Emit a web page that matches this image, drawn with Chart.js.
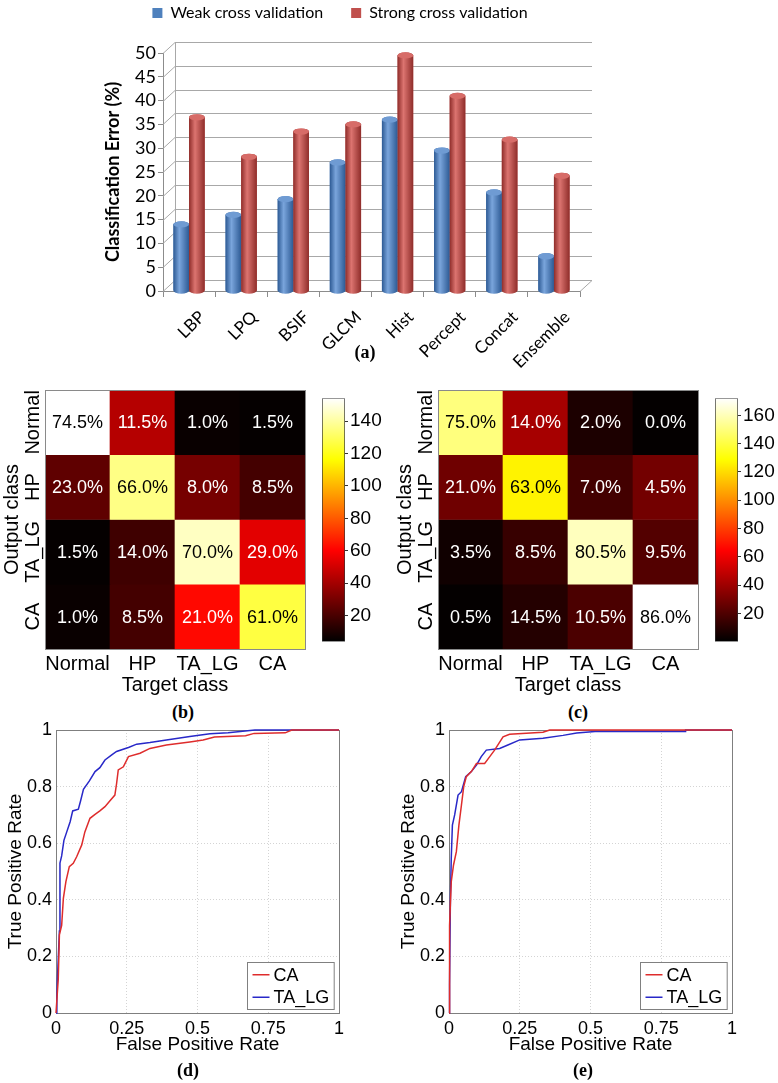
<!DOCTYPE html>
<html>
<head>
<meta charset="utf-8">
<script src="https://cdn.jsdelivr.net/npm/chart.js@4.4.0/dist/chart.umd.min.js"></script>
<style>
  body { margin: 0; background: #fff; }
  #page { position: relative; width: 778px; height: 1083px; overflow: hidden; background: #fff; }
  .box { position: absolute; }
  .panel-label { position: absolute; font: bold 18px "Liberation Serif", "Times New Roman", serif; transform: translate(-50%, -50%); }
</style>
</head>
<body>
<div id="page">
  <div class="box" style="left:0;top:-23px;width:778px;height:398px"><canvas id="barChart"></canvas></div>
  <div class="panel-label" style="left:365px;top:352px">(a)</div>

  <div class="box" style="left:0;top:385px;width:310px;height:316px"><canvas id="heatB"></canvas></div>
  <div class="box" style="left:312px;top:385px;width:75px;height:270px"><canvas id="barB"></canvas></div>
  <div class="panel-label" style="left:183px;top:712px">(b)</div>

  <div class="box" style="left:393px;top:385px;width:310px;height:316px"><canvas id="heatC"></canvas></div>
  <div class="box" style="left:705px;top:385px;width:73px;height:270px"><canvas id="barC"></canvas></div>
  <div class="panel-label" style="left:578px;top:712px">(c)</div>

  <div class="box" style="left:0;top:715px;width:350px;height:345px"><canvas id="rocD"></canvas></div>
  <div class="panel-label" style="left:188px;top:1070px">(d)</div>

  <div class="box" style="left:393px;top:715px;width:350px;height:345px"><canvas id="rocE"></canvas></div>
  <div class="panel-label" style="left:583px;top:1070px">(e)</div>
</div>
<script>
// ---- data ----
const methods = ['LBP', 'LPQ', 'BSIF', 'GLCM', 'Hist', 'Percept', 'Concat', 'Ensemble'];
const weakCV = [14, 16, 19.3, 27, 36, 29.5, 20.7, 7.3];
const strongCV = [36.5, 28.2, 33.5, 35, 49.5, 41, 31.8, 24.2];

const classes = ['Normal', 'HP', 'TA_LG', 'CA'];
// percentages printed in the cells (rows = output class, cols = target class)
const pctB = [[74.5, 11.5, 1.0, 1.5], [23.0, 66.0, 8.0, 8.5], [1.5, 14.0, 70.0, 29.0], [1.0, 8.5, 21.0, 61.0]];
const pctC = [[75.0, 14.0, 2.0, 0.0], [21.0, 63.0, 7.0, 4.5], [3.5, 8.5, 80.5, 9.5], [0.5, 14.5, 10.5, 86.0]];
// cell colour values, read against the colorbars
const colorValB = [[154, 44, 6, 5], [25, 136, 30, 19], [5, 18, 145, 54], [6, 19, 62, 126]];
const colorValC = [[150, 42, 7, 1], [28, 126, 17, 29], [4, 14, 161, 21], [1, 9, 19, 172]];
const colorRangeB = [4, 154];
const colorRangeC = [0, 172];
const colorbarTicksB = [20, 40, 60, 80, 100, 120, 140];
const colorbarTicksC = [20, 40, 60, 80, 100, 120, 140, 160];

const rocTicksX = [0, 0.25, 0.5, 0.75, 1];
const rocTicksY = [0, 0.2, 0.4, 0.6, 0.8, 1];
const dFprCA = [0, 0.004, 0.008, 0.012, 0.02, 0.026, 0.035, 0.047, 0.061, 0.073, 0.091, 0.102, 0.12, 0.138, 0.155, 0.173, 0.19, 0.208, 0.214, 0.22, 0.238, 0.256, 0.297, 0.332, 0.39, 0.473, 0.52, 0.56, 0.67, 0.7, 0.81, 0.833, 1];
const dTprCA = [0, 0.06, 0.12, 0.276, 0.31, 0.405, 0.464, 0.517, 0.529, 0.552, 0.594, 0.64, 0.688, 0.702, 0.714, 0.729, 0.749, 0.77, 0.81, 0.859, 0.87, 0.906, 0.918, 0.935, 0.947, 0.958, 0.965, 0.975, 0.98, 0.988, 0.99, 1, 1];
const dFprTA = [0, 0.003, 0.005, 0.012, 0.014, 0.02, 0.028, 0.038, 0.05, 0.059, 0.079, 0.087, 0.097, 0.118, 0.138, 0.155, 0.173, 0.197, 0.214, 0.256, 0.285, 0.332, 0.39, 0.473, 0.544, 0.608, 0.703, 1];
const dTprTA = [0, 0.05, 0.12, 0.29, 0.53, 0.555, 0.61, 0.64, 0.676, 0.714, 0.72, 0.75, 0.79, 0.82, 0.853, 0.867, 0.894, 0.912, 0.924, 0.938, 0.95, 0.956, 0.965, 0.977, 0.987, 0.99, 1, 1];
const eFprCA = [0, 0.002, 0.008, 0.016, 0.026, 0.035, 0.044, 0.052, 0.061, 0.079, 0.097, 0.126, 0.144, 0.161, 0.191, 0.214, 0.332, 0.356, 1];
const eTprCA = [0, 0.31, 0.464, 0.523, 0.57, 0.664, 0.735, 0.8, 0.835, 0.853, 0.882, 0.882, 0.906, 0.929, 0.976, 0.985, 0.992, 1, 1];
const eFprTA = [0, 0.002, 0.005, 0.008, 0.012, 0.02, 0.032, 0.044, 0.059, 0.079, 0.097, 0.114, 0.132, 0.179, 0.208, 0.25, 0.332, 0.403, 0.451, 0.516, 0.834, 0.836, 1];
const eTprTA = [0, 0.1, 0.405, 0.547, 0.664, 0.7, 0.77, 0.782, 0.835, 0.853, 0.876, 0.906, 0.929, 0.935, 0.947, 0.965, 0.971, 0.981, 0.989, 0.995, 0.995, 1, 1];

Chart.defaults.color = '#000';
Chart.defaults.animation = false;
Chart.defaults.responsive = true;
Chart.defaults.maintainAspectRatio = false;
Chart.defaults.plugins.tooltip.enabled = false;

const SANS = '"Liberation Sans", Arial, sans-serif';
const OFFICE = 'Lato, "Open Sans", sans-serif';

// ---- (a) 3D-looking bar chart ----
const DX = 12, DY = 11;
const barShades = [
  { dark: '#2d5a94', light: '#7aa5dc', top: '#6f9bd3' },
  { dark: '#8f2d2a', light: '#dc7470', top: '#d76c68' }
];

const legendGap = {
  id: 'legendGap',
  beforeInit(chart) {
    const fit = chart.legend.fit;
    chart.legend.fit = function () { fit.call(this); this.height += 22; };
  }
};

// back wall grid lines and side wall
const wall3d = {
  id: 'wall3d',
  beforeDatasetsDraw(chart) {
    const { ctx, chartArea: a, scales: { y } } = chart;
    ctx.save();
    ctx.strokeStyle = '#a8a8a8';
    ctx.lineWidth = 1;
    y.ticks.forEach(t => {
      const py = Math.round(y.getPixelForValue(t.value)) + 0.5;
      ctx.beginPath();
      ctx.moveTo(a.left, py);
      ctx.lineTo(a.left + DX, py - DY);
      ctx.lineTo(a.right + DX, py - DY);
      ctx.stroke();
    });
    ctx.beginPath();
    ctx.moveTo(a.left + DX + 0.5, a.top - DY);
    ctx.lineTo(a.left + DX + 0.5, a.bottom - DY);
    ctx.moveTo(a.right, a.bottom + 0.5);
    ctx.lineTo(a.right + DX, a.bottom - DY + 0.5);
    ctx.stroke();
    ctx.restore();
  }
};

// paint each bar as a shaded cylinder
const cylinders = {
  id: 'cylinders',
  afterDatasetsDraw(chart) {
    const ctx = chart.ctx;
    chart.data.datasets.forEach((ds, i) => {
      const shade = barShades[i];
      chart.getDatasetMeta(i).data.forEach(bar => {
        const { x, y, base, width } = bar.getProps(['x', 'y', 'base', 'width'], true);
        const left = x - width / 2, rx = width / 2, ry = width * 0.2;
        const g = ctx.createLinearGradient(left, 0, left + width, 0);
        g.addColorStop(0, shade.dark);
        g.addColorStop(0.38, shade.light);
        g.addColorStop(1, shade.dark);
        ctx.save();
        ctx.fillStyle = g;
        ctx.beginPath();
        ctx.moveTo(left, y);
        ctx.lineTo(left, base);
        ctx.ellipse(x, base, rx, ry, 0, Math.PI, 0, true);
        ctx.lineTo(left + width, y);
        ctx.ellipse(x, y, rx, ry, 0, 0, Math.PI, true);
        ctx.fill();
        ctx.fillStyle = shade.top;
        ctx.beginPath();
        ctx.ellipse(x, y, rx, ry, 0, 0, Math.PI * 2);
        ctx.fill();
        ctx.restore();
      });
    });
  }
};

new Chart(document.getElementById('barChart'), {
  type: 'bar',
  data: {
    labels: methods,
    datasets: [
      { label: 'Weak cross validation', data: weakCV, backgroundColor: '#4F81BD', categoryPercentage: 0.6, barPercentage: 1 },
      { label: 'Strong cross validation', data: strongCV, backgroundColor: '#C0504D', categoryPercentage: 0.6, barPercentage: 1 }
    ]
  },
  options: {
    layout: { padding: { left: 100, right: 198 } },
    plugins: {
      legend: {
        position: 'top',
        labels: { boxWidth: 10, boxHeight: 10, padding: 28, color: '#000', font: { family: OFFICE, size: 16 } }
      }
    },
    scales: {
      x: {
        grid: { drawOnChartArea: false, tickLength: 6, color: '#8c8c8c' },
        border: { color: '#8c8c8c' },
        ticks: { minRotation: 45, maxRotation: 45, autoSkip: false, labelOffset: 13, padding: 10, font: { family: OFFICE, size: 17 } },
        afterFit: s => { s.height = 84; }
      },
      y: {
        min: 0, max: 50,
        ticks: { stepSize: 5, autoSkip: false, padding: 2, font: { family: OFFICE, size: 18 } },
        grid: { drawOnChartArea: false, tickLength: 5, color: '#8c8c8c' },
        border: { color: '#8c8c8c' },
        title: { display: true, text: 'Classification Error (%)', font: { family: OFFICE, size: 18, weight: 'bold' }, padding: { top: 2, bottom: 4 } },
        afterFit: s => { s.width = 63; }
      }
    }
  },
  plugins: [legendGap, wall3d, cylinders]
});

// ---- (b), (c) confusion matrices ----
function hotColor(v, range) {
  const t = Math.min(1, Math.max(0, (v - range[0]) / (range[1] - range[0])));
  const r = Math.min(1, t / 0.375);
  const g = Math.min(1, Math.max(0, (t - 0.375) / 0.375));
  const b = Math.max(0, (t - 0.75) / 0.25);
  return `rgb(${Math.round(r * 255)},${Math.round(g * 255)},${Math.round(b * 255)})`;
}

function cellTextPlugin(pct, vals, range) {
  return {
    id: 'cellText',
    afterDatasetsDraw(chart) {
      const ctx = chart.ctx;
      ctx.save();
      ctx.font = '18px ' + SANS;
      ctx.textAlign = 'center';
      ctx.textBaseline = 'middle';
      chart.data.datasets.forEach((ds, r) => {
        chart.getDatasetMeta(r).data.forEach((bar, c) => {
          const { x, y, base } = bar.getProps(['x', 'y', 'base'], true);
          const t = (vals[r][c] - range[0]) / (range[1] - range[0]);
          ctx.fillStyle = t > 0.6 ? '#000' : '#fff';
          ctx.fillText(pct[r][c].toFixed(1) + '%', x, (y + base) / 2 + 1);
        });
      });
      ctx.restore();
    }
  };
}

const frame = {
  id: 'frame',
  beforeDatasetsDraw(chart) {
    const { ctx, chartArea: a } = chart;
    ctx.save();
    ctx.strokeStyle = '#7f7f7f';
    ctx.lineWidth = 1;
    ctx.strokeRect(Math.round(a.left) + 0.5, Math.round(a.top) + 0.5, Math.round(a.width), Math.round(a.height));
    ctx.restore();
  }
};

const heatFrame = {
  id: 'heatFrame',
  afterDatasetsDraw(chart) {
    const { ctx, chartArea: a } = chart;
    ctx.save();
    ctx.strokeStyle = '#8a8a8a';
    ctx.lineWidth = 1;
    ctx.strokeRect(Math.round(a.left) + 0.5, Math.round(a.top) + 0.5, Math.round(a.width), Math.round(a.height));
    ctx.restore();
  }
};

function makeHeatmap(id, pct, vals, range) {
  const datasets = classes.map((row, r) => ({
    label: row,
    data: classes.map(() => [r, r + 1]),
    backgroundColor: vals[r].map(v => hotColor(v, range)),
    grouped: false,
    barPercentage: 1,
    categoryPercentage: 1,
    borderWidth: 0
  }));
  new Chart(document.getElementById(id), {
    type: 'bar',
    data: { labels: classes, datasets },
    options: {
      layout: { padding: { top: 5, right: 5 } },
      plugins: { legend: { display: false } },
      scales: {
        x: {
          grid: { display: false, drawTicks: false },
          border: { display: false },
          ticks: { padding: 3, minRotation: 0, maxRotation: 0, autoSkip: false, font: { family: SANS, size: 20 } },
          title: { display: true, text: 'Target class', font: { family: SANS, size: 20 }, padding: { top: 0, bottom: 4 } },
          afterFit: s => { s.height = 52; }
        },
        y: {
          type: 'linear', min: 0, max: 4, reverse: true,
          afterBuildTicks: s => { s.ticks = classes.map((_, i) => ({ value: i + 0.5 })); },
          ticks: {
            callback: v => classes[Math.floor(v)],
            minRotation: 90, maxRotation: 90, crossAlign: 'center', padding: -21,
            font: { family: SANS, size: 20 }
          },
          grid: { display: false, drawTicks: false },
          border: { display: false },
          title: { display: true, text: 'Output class', font: { family: SANS, size: 20 }, padding: 0 },
          afterFit: s => { s.width = 45; }
        }
      }
    },
    plugins: [cellTextPlugin(pct, vals, range), heatFrame]
  });
}

function makeColorbar(id, range, tickVals, axisWidth) {
  new Chart(document.getElementById(id), {
    type: 'bar',
    data: {
      labels: [''],
      datasets: [{
        data: [[range[0], range[1]]],
        backgroundColor: ctx => {
          const { chart } = ctx;
          if (!chart.chartArea) return '#000';
          const y = chart.scales.y;
          const g = chart.ctx.createLinearGradient(0, y.getPixelForValue(range[0]), 0, y.getPixelForValue(range[1]));
          g.addColorStop(0, '#000');
          g.addColorStop(0.375, '#f00');
          g.addColorStop(0.75, '#ff0');
          g.addColorStop(1, '#fff');
          return g;
        },
        borderColor: '#333',
        borderWidth: 1,
        borderSkipped: false,
        barPercentage: 1,
        categoryPercentage: 1
      }]
    },
    options: {
      layout: { padding: { left: 10, top: 5, bottom: 6 } },
      plugins: { legend: { display: false } },
      scales: {
        x: { display: false },
        y: {
          position: 'right', min: range[0], max: range[1],
          afterBuildTicks: s => { s.ticks = tickVals.map(v => ({ value: v })); },
          grid: { drawOnChartArea: false, tickLength: 3, color: '#333' },
          border: { display: false },
          ticks: { padding: 2, autoSkip: false, font: { family: SANS, size: 19 } },
          afterFit: s => { s.width = axisWidth; }
        }
      }
    }
  });
}

makeHeatmap('heatB', pctB, colorValB, colorRangeB);
makeColorbar('barB', colorRangeB, colorbarTicksB, 42);
makeHeatmap('heatC', pctC, colorValC, colorRangeC);
makeColorbar('barC', colorRangeC, colorbarTicksC, 40);

// ---- (d), (e) ROC curves ----
const rocLegend = {
  id: 'rocLegend',
  afterDraw(chart) {
    const { ctx, chartArea: a } = chart;
    const items = chart.data.datasets;
    ctx.save();
    ctx.font = '18px ' + SANS;
    const textW = Math.max(...items.map(d => ctx.measureText(d.label).width));
    const w = 5 + 17 + 4 + textW + 5, rowH = 22.5, h = items.length * rowH + 2;
    const x0 = Math.round(a.right - 5 - w) + 0.5, y0 = Math.round(a.bottom - 4 - h) + 0.5;
    ctx.fillStyle = '#fff';
    ctx.fillRect(x0, y0, w, h);
    ctx.strokeStyle = '#808080';
    ctx.lineWidth = 1;
    ctx.strokeRect(x0, y0, w, h);
    ctx.textBaseline = 'middle';
    items.forEach((d, i) => {
      const cy = y0 + 1 + rowH * (i + 0.5);
      ctx.strokeStyle = d.borderColor;
      ctx.lineWidth = 1.5;
      ctx.beginPath();
      ctx.moveTo(x0 + 5, cy);
      ctx.lineTo(x0 + 22, cy);
      ctx.stroke();
      ctx.fillStyle = '#000';
      ctx.fillText(d.label, x0 + 26, cy + 1);
    });
    ctx.restore();
  }
};

function makeRoc(id, caF, caT, taF, taT) {
  const toPts = (f, t) => f.map((x, i) => ({ x, y: t[i] }));
  new Chart(document.getElementById(id), {
    type: 'scatter',
    data: {
      datasets: [
        { label: 'CA', data: toPts(caF, caT), showLine: true, borderColor: 'rgb(222,44,44)', borderWidth: 1.5, pointRadius: 0, clip: 2 },
        { label: 'TA_LG', data: toPts(taF, taT), showLine: true, borderColor: 'rgb(40,40,200)', borderWidth: 1.5, pointRadius: 0, clip: 2 }
      ]
    },
    options: {
      layout: { padding: { top: 15, right: 11 } },
      plugins: { legend: { display: false } },
      scales: {
        x: {
          type: 'linear', min: 0, max: 1,
          afterBuildTicks: s => { s.ticks = rocTicksX.map(v => ({ value: v })); },
          ticks: { callback: v => String(v), padding: 5, autoSkip: false, font: { family: SANS, size: 18 } },
          grid: { color: '#d4d4d4', drawTicks: false },
          border: { color: '#7f7f7f', dash: [1, 2] },
          title: { display: true, text: 'False Positive Rate', font: { family: SANS, size: 19 }, padding: { top: 0, bottom: 4 } },
          afterFit: s => { s.height = 47; }
        },
        y: {
          type: 'linear', min: 0, max: 1,
          afterBuildTicks: s => { s.ticks = rocTicksY.map(v => ({ value: v })); },
          ticks: { callback: v => String(v), padding: 4, autoSkip: false, font: { family: SANS, size: 18 } },
          grid: { color: '#d4d4d4', drawTicks: false },
          border: { color: '#7f7f7f', dash: [1, 2] },
          title: { display: true, text: 'True Positive Rate', font: { family: SANS, size: 19 }, padding: { top: 4, bottom: 0 } },
          afterFit: s => { s.width = 56; }
        }
      }
    },
    plugins: [frame, rocLegend]
  });
}

makeRoc('rocD', dFprCA, dTprCA, dFprTA, dTprTA);
makeRoc('rocE', eFprCA, eTprCA, eFprTA, eTprTA);
</script>
</body>
</html>
